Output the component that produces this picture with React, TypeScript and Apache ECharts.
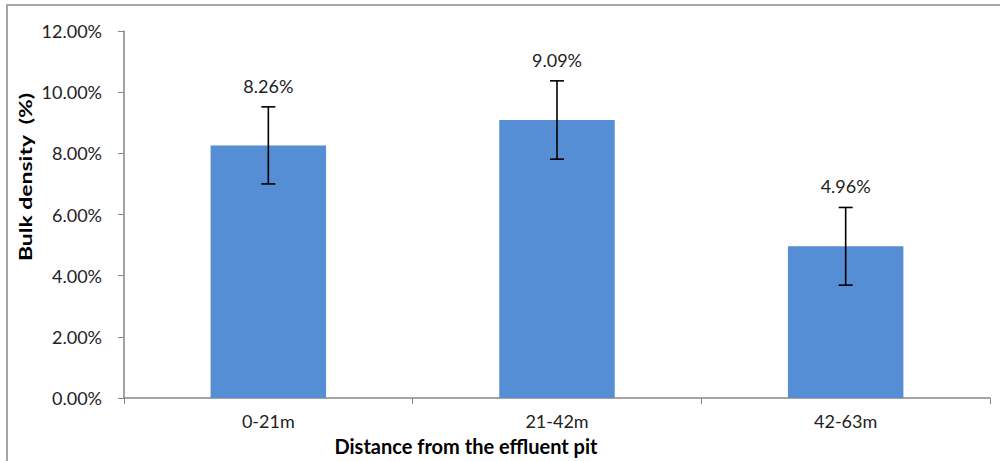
import React, { useEffect, useRef } from "react";
import * as echarts from "echarts";

const categories = ["0-21m", "21-42m", "42-63m"];
const values = [8.26, 9.09, 4.96];
const errors = [1.26, 1.28, 1.27];
const yTicks = [0, 2, 4, 6, 8, 10, 12];
const xTitle = "Distance from the effluent pit";
const yTitle = "Bulk density  (%)";

const FONT = "Lato, 'Open Sans', sans-serif";

export default function App() {
  const ref = useRef<HTMLDivElement>(null);
  useEffect(() => {
    if (!ref.current) return;
    const chart = echarts.init(ref.current, undefined, { renderer: "svg" });
    const errData = values.map((v, i) => [i, v - errors[i], v + errors[i], v]);
    chart.setOption({
      animation: false,
      backgroundColor: "#ffffff",
      textStyle: { fontFamily: FONT },
      grid: { left: 124, right: 10, top: 31, bottom: 63 },
      graphic: [
        {
          type: "rect",
          shape: { x: 7, y: 5, width: 1010, height: 480 },
          style: { fill: "none", stroke: "#a6a6a6", lineWidth: 2 },
          silent: true,
        },
        {
          type: "text",
          x: 25,
          y: 177,
          rotation: Math.PI / 2,
          scaleX: 1.35,
          style: {
            text: yTitle,
            font: `bold 17px ${FONT}`,
            fill: "#000",
            align: "center",
            verticalAlign: "middle",
          },
        },
        {
          type: "text",
          x: 466,
          y: 446,
          style: {
            text: xTitle,
            font: `bold 20px ${FONT}`,
            fill: "#000",
            align: "center",
            verticalAlign: "middle",
          },
        },
      ],
      xAxis: {
        type: "category",
        data: categories,
        boundaryGap: true,
        axisLine: { lineStyle: { color: "#868686", width: 1.5 } },
        axisTick: { show: true, length: 6, inside: false, lineStyle: { color: "#868686" } },
        axisLabel: { color: "#222", fontSize: 18, fontFamily: FONT, margin: 14 },
      },
      yAxis: {
        type: "value",
        min: yTicks[0],
        max: yTicks[yTicks.length - 1],
        interval: 2,
        axisLine: { show: true, lineStyle: { color: "#868686", width: 1.5 } },
        axisTick: { show: true, length: 6, lineStyle: { color: "#868686" } },
        splitLine: { show: false },
        axisLabel: {
          color: "#222",
          fontSize: 18,
          fontFamily: FONT,
          margin: 22,
          formatter: (v: number) => v.toFixed(2) + "%",
        },
      },
      series: [
        {
          type: "bar",
          data: values,
          barWidth: "40%",
          itemStyle: { color: "#558ed5" },
          z: 2,
        },
        {
          type: "custom",
          data: errData,
          z: 5,
          renderItem: (params: any, api: any) => {
            const x = api.value(0);
            const lo = api.coord([x, api.value(1)]);
            const hi = api.coord([x, api.value(2)]);
            const cx = lo[0];
            const half = 7;
            const style = { stroke: "#000", lineWidth: 1.6 };
            return {
              type: "group",
              children: [
                { type: "line", shape: { x1: cx, y1: hi[1], x2: cx, y2: lo[1] }, style },
                { type: "line", shape: { x1: cx - half, y1: hi[1], x2: cx + half, y2: hi[1] }, style },
                { type: "line", shape: { x1: cx - half, y1: lo[1], x2: cx + half, y2: lo[1] }, style },
                {
                  type: "text",
                  x: cx,
                  y: hi[1] - 21,
                  style: {
                    text: api.value(3).toFixed(2) + "%",
                    font: `18px ${FONT}`,
                    fill: "#222",
                    align: "center",
                    verticalAlign: "middle",
                  },
                },
              ],
            };
          },
        },
      ],
    });
    return () => chart.dispose();
  }, []);
  return (
    <div
      ref={ref}
      style={{ position: "fixed", left: 0, top: 0, width: 1000, height: 461 }}
    />
  );
}
